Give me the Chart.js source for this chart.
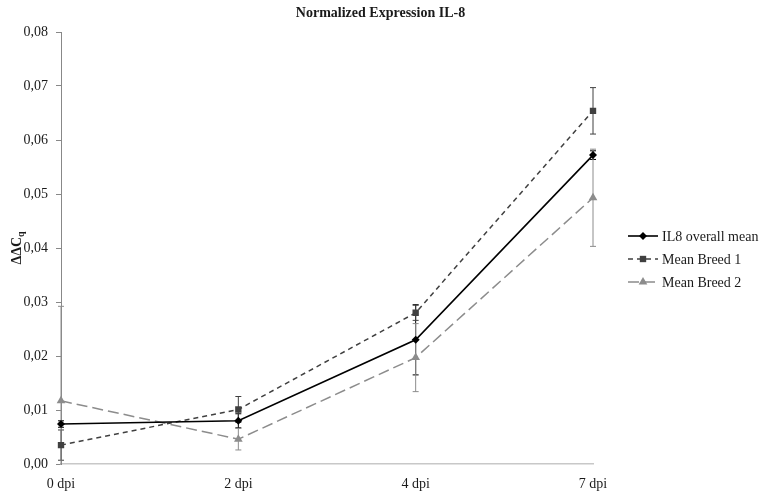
<!DOCTYPE html>
<html>
<head>
<meta charset="utf-8">
<script src="https://cdn.jsdelivr.net/npm/chart.js@4.4.0/dist/chart.umd.min.js"></script>
<style>
  html, body { margin: 0; padding: 0; background: #fff; }
  #wrap { width: 763px; height: 493px; }
</style>
</head>
<body>
<div id="wrap"><canvas id="chart"></canvas></div>
<script>
/* --------------- Data --------------------- */
const days = ["0 dpi", "2 dpi", "4 dpi", "7 dpi"];
const seriesNames = ["IL8 overall mean", "Mean Breed 1", "Mean Breed 2"];
const overallMean = [0.0074, 0.0080, 0.0230, 0.0572];
const breed1Mean = [0.0035, 0.0101, 0.0280, 0.0654];
const breed2Mean = [0.0117, 0.0046, 0.0197, 0.0493];
const overallErr = [0.0006, 0.0013, 0.0065, 0.0008];
const breed1Err = [0.0028, 0.0024, 0.0014, 0.0043];
const breed2Err = [0.0175, 0.0020, 0.0063, 0.0090];
const yTicks = [0, 0.01, 0.02, 0.03, 0.04, 0.05, 0.06, 0.07, 0.08];
const chartTitle = "Normalized Expression IL-8";

const serif = "'Liberation Serif', 'Times New Roman', serif";
const textColor = "#1a1a1a";

/* --------------- Error bars --------------------- */
const errorBars = {
  id: "errorBars",
  beforeDatasetsDraw(chart) {
    const ctx = chart.ctx;
    const y = chart.scales.y;
    chart.data.datasets.forEach((ds, di) => {
      const meta = chart.getDatasetMeta(di);
      ctx.save();
      ctx.strokeStyle = ds.borderColor;
      ctx.lineWidth = 1;
      meta.data.forEach((pt, i) => {
        const v = ds.data[i], e = ds.errors[i];
        const top = y.getPixelForValue(v + e);
        const bot = y.getPixelForValue(Math.max(0, v - e));
        ctx.beginPath();
        ctx.moveTo(pt.x, top); ctx.lineTo(pt.x, bot);
        ctx.moveTo(pt.x - 3, top); ctx.lineTo(pt.x + 3, top);
        if (v - e > 0) { ctx.moveTo(pt.x - 3, bot); ctx.lineTo(pt.x + 3, bot); }
        ctx.stroke();
      });
      ctx.restore();
    });
  }
};

/* --------------- Title, axis title + legend --------------------- */
const extras = {
  id: "extras",
  afterDraw(chart) {
    const ctx = chart.ctx;
    const area = chart.chartArea;
    // chart title, centred on the whole canvas
    ctx.save();
    ctx.fillStyle = textColor;
    ctx.font = "bold 14px " + serif;
    ctx.textAlign = "center";
    ctx.textBaseline = "middle";
    ctx.fillText(chartTitle, chart.width / 2 - 1, 13);
    ctx.restore();

    // y axis title with subscript q
    ctx.save();
    ctx.translate(16, (area.top + area.bottom) / 2);
    ctx.rotate(-Math.PI / 2);
    ctx.fillStyle = textColor;
    ctx.textBaseline = "alphabetic";
    const main = "\u0394\u0394C";
    ctx.font = "bold 14px " + serif;
    const w1 = ctx.measureText(main).width;
    ctx.font = "bold 10px " + serif;
    const w2 = ctx.measureText("q").width;
    const start = -(w1 + w2) / 2;
    ctx.font = "bold 14px " + serif;
    ctx.fillText(main, start, 5);
    ctx.font = "bold 10px " + serif;
    ctx.fillText("q", start + w1, 8);
    ctx.restore();

    // legend
    const lx = 628, ty = 236, gap = 23;
    chart.data.datasets.forEach((ds, i) => {
      const yy = ty + i * gap;
      ctx.save();
      ctx.strokeStyle = ds.borderColor;
      ctx.lineWidth = ds.borderWidth;
      ctx.setLineDash(ds.borderDash || []);
      ctx.beginPath();
      ctx.moveTo(lx, yy); ctx.lineTo(lx + 30, yy);
      ctx.stroke();
      ctx.setLineDash([]);
      ctx.fillStyle = ds.pointBackgroundColor;
      Chart.helpers.drawPoint(ctx, {
        pointStyle: ds.pointStyle, radius: ds.pointRadius, rotation: 0, borderWidth: 0
      }, lx + 15, yy);
      ctx.fillStyle = textColor;
      ctx.font = "14px " + serif;
      ctx.textBaseline = "middle";
      ctx.fillText(ds.label, lx + 34, yy + 1);
      ctx.restore();
    });
  }
};

/* --------------- Chart --------------------- */
new Chart(document.getElementById("chart"), {
  type: "line",
  plugins: [errorBars, extras],
  data: {
    labels: days,
    datasets: [
      {
        label: seriesNames[0], data: overallMean, errors: overallErr,
        borderColor: "#000000", borderWidth: 1.6, pointStyle: "rectRot",
        pointRadius: 4, pointBackgroundColor: "#000000", pointBorderWidth: 0
      },
      {
        label: seriesNames[1], data: breed1Mean, errors: breed1Err,
        borderColor: "#404040", borderWidth: 1.5, borderDash: [5, 4], pointStyle: "rect",
        pointRadius: 4.5, pointBackgroundColor: "#404040", pointBorderWidth: 0
      },
      {
        label: seriesNames[2], data: breed2Mean, errors: breed2Err,
        borderColor: "#8c8c8c", borderWidth: 1.5, borderDash: [11, 5], pointStyle: "triangle",
        pointRadius: 5, pointBackgroundColor: "#8c8c8c", pointBorderWidth: 0
      }
    ]
  },
  options: {
    responsive: true,
    maintainAspectRatio: false,
    animation: false,
    layout: { padding: { left: 0, right: 170, top: 32, bottom: 0 } },
    plugins: {
      legend: { display: false },
      tooltip: { enabled: false },
      title: { display: false }
    },
    scales: {
      x: {
        type: "category",
        offset: false,
        grid: { display: false },
        border: { color: "#c8c8c8", width: 1.5 },
        ticks: { color: textColor, font: { family: serif, size: 14 }, padding: 4, maxRotation: 0 },
        afterFit(scale) { scale.height = 29; }
      },
      y: {
        min: 0,
        max: 0.08,
        afterBuildTicks(scale) { scale.ticks = yTicks.map(v => ({ value: v })); },
        grid: { drawOnChartArea: false, drawTicks: true, tickLength: 5, color: "#888888" },
        border: { color: "#888888", width: 1 },
        ticks: {
          color: textColor, font: { family: serif, size: 14 }, padding: 8,
          callback: v => v.toFixed(2).replace(".", ",")
        },
        afterFit(scale) { scale.width = 61; }
      }
    }
  }
});
</script>
</body>
</html>
